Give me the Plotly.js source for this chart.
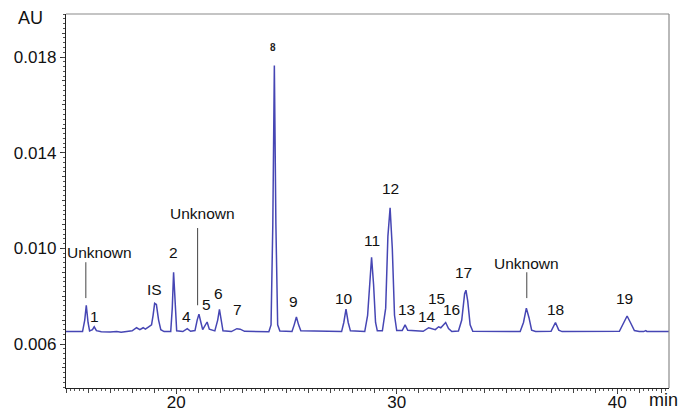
<!DOCTYPE html>
<html>
<head>
<meta charset="utf-8">
<script src="https://cdn.plot.ly/plotly-3.0.1.min.js"></script>
<style>html,body{margin:0;padding:0;background:#fff;}#chart{width:681px;height:411px;}</style>
</head>
<body>
<div id="chart"></div>
<script>
// Retention time (min) and absorbance (AU)
const timeMin = [
  15.0, 15.5, 15.75, 15.85, 15.92, 16.0, 16.07, 16.2, 16.28, 16.38, 16.6,
  17.0, 17.3, 17.5, 17.8, 18.0, 18.2, 18.35, 18.5, 18.6, 18.75, 18.88, 18.95,
  19.02, 19.1, 19.2, 19.3, 19.45, 19.75, 19.82, 19.88, 19.95, 20.02, 20.3,
  20.5, 20.65, 20.85, 20.95, 21.03, 21.12, 21.2, 21.4, 21.5, 21.75, 21.88,
  21.96, 22.05, 22.12, 22.5, 22.75, 22.9, 23.1, 24.2, 24.3, 24.38, 24.45,
  24.52, 24.6, 24.7, 25.25, 25.35, 25.45, 25.55, 25.65, 27.5, 27.6, 27.7,
  27.8, 27.9, 28.55, 28.68, 28.78, 28.86, 28.95, 29.04, 29.12, 29.35, 29.5,
  29.6, 29.7, 29.8, 29.9, 30.0, 30.25, 30.38, 30.5, 31.2, 31.45, 31.6, 31.75,
  31.9, 32.0, 32.22, 32.35, 32.5, 32.8, 32.95, 33.08, 33.14, 33.22, 33.33,
  33.45, 35.6, 35.75, 35.88, 36.0, 36.12, 36.3, 37.0, 37.2, 37.35, 37.5,
  40.1, 40.3, 40.45, 40.6, 40.78, 41.0, 41.2, 41.3, 41.35, 42.35
];
const absorbance = [
  0.00652, 0.00650, 0.00652, 0.00700, 0.00762, 0.00690, 0.00655, 0.00660, 0.00672, 0.00656, 0.00651,
  0.00650, 0.00652, 0.00649, 0.00652, 0.00655, 0.00668, 0.00660, 0.00668, 0.00662, 0.00672, 0.00680, 0.00720,
  0.00770, 0.00765, 0.00700, 0.00660, 0.00652, 0.00652, 0.00750, 0.00900, 0.00740, 0.00655, 0.00652,
  0.00664, 0.00653, 0.00656, 0.00700, 0.00725, 0.00690, 0.00660, 0.00692, 0.00662, 0.00655, 0.00700,
  0.00745, 0.00690, 0.00655, 0.00652, 0.00664, 0.00662, 0.00653, 0.00651, 0.00680, 0.01100, 0.01765,
  0.01100, 0.00680, 0.00654, 0.00652, 0.00680, 0.00713, 0.00680, 0.00655, 0.00652, 0.00690, 0.00746,
  0.00690, 0.00655, 0.00652, 0.00720, 0.00880, 0.00963, 0.00850, 0.00690, 0.00655, 0.00655, 0.00750,
  0.01050, 0.01170, 0.01000, 0.00720, 0.00656, 0.00656, 0.00680, 0.00657, 0.00653, 0.00668, 0.00665, 0.00660,
  0.00672, 0.00668, 0.00690, 0.00665, 0.00652, 0.00654, 0.00700, 0.00810, 0.00825, 0.00780, 0.00680,
  0.00653, 0.00652, 0.00690, 0.00750, 0.00710, 0.00658, 0.00652, 0.00653, 0.00690, 0.00658, 0.00652,
  0.00653, 0.00690, 0.00717, 0.00690, 0.00656, 0.00652, 0.00652, 0.00656, 0.00652, 0.00652
];

// Peak labels
const peakLabels = ["Unknown", "1", "IS", "2", "4", "Unknown", "5", "6", "7", "8", "9", "10", "11", "12", "13", "14", "15", "16", "17", "Unknown", "18", "19"];
const labelTime  = [16.54, 16.31, 19.03, 19.89, 20.48, 21.2, 21.38, 21.92, 22.78, 24.41, 25.32, 27.62, 28.89, 29.7, 30.43, 31.38, 31.79, 32.47, 33.05, 35.9, 37.2, 40.34];
const labelAU    = [0.00983, 0.00717, 0.00829, 0.00983, 0.00717, 0.01146, 0.00767, 0.00812, 0.00746, 0.01842, 0.00779, 0.00792, 0.01033, 0.0125, 0.00746, 0.00717, 0.00792, 0.00746, 0.0090, 0.00938, 0.00746, 0.00792];

// Leader lines for "Unknown" labels
const leaderTime = [15.9, 20.97, 35.9];
const leaderTop  = [0.00942, 0.01085, 0.00900];
const leaderBot  = [0.00792, 0.00762, 0.00792];

const yTickVals = [0.006, 0.010, 0.014, 0.018];
const yTickText = ["0.006", "0.010", "0.014", "0.018"];
const xTickVals = [20, 30, 40];

const xRange = [15, 42.35];
const yRange = [0.00416, 0.0198];

const font = "Liberation Sans, Arial, sans-serif";

const annotations = peakLabels.map((t, i) => ({
  x: labelTime[i], y: labelAU[i], xref: 'x', yref: 'y',
  text: t, showarrow: false, xanchor: 'center', yanchor: 'middle',
  font: t === "8" ? {family: font, size: 10, color: '#222', weight: 'bold'} : {family: font, size: 15.5, color: '#111'}
}));
annotations.push({xref: 'paper', yref: 'paper', x: -0.035, y: 0.99, xanchor: 'right', yanchor: 'middle',
  text: 'AU', showarrow: false, font: {family: font, size: 18, color: '#111'}});
annotations.push({xref: 'paper', yref: 'paper', x: 0.963, y: -0.032, xanchor: 'left', yanchor: 'middle',
  text: 'min', showarrow: false, font: {family: font, size: 18, color: '#111'}});

const shapes = leaderTime.map((t, i) => ({
  type: 'line', xref: 'x', yref: 'y', x0: t, x1: t, y0: leaderBot[i], y1: leaderTop[i],
  line: {color: '#444', width: 1}
}));
// top & right frame in gray
shapes.push({type: 'line', xref: 'paper', yref: 'paper', x0: 0, x1: 1, y0: 1, y1: 1, line: {color: '#8a8a8a', width: 1.2}});
shapes.push({type: 'line', xref: 'paper', yref: 'paper', x0: 1, x1: 1, y0: 0, y1: 1, line: {color: '#8a8a8a', width: 1.2}});

const trace = {
  x: timeMin, y: absorbance, type: 'scatter', mode: 'lines',
  line: {color: '#4646b4', width: 1.5}, hoverinfo: 'skip'
};
// invisible trace to activate secondary tick axes
const dummy = {x: [xRange[0]], y: [yRange[0]], xaxis: 'x2', yaxis: 'y2', mode: 'markers', marker: {opacity: 0}, hoverinfo: 'skip', showlegend: false};

const layout = {
  width: 681, height: 411,
  margin: {l: 66, r: 12, t: 14, b: 23},
  paper_bgcolor: '#fff', plot_bgcolor: '#fff',
  showlegend: false,
  font: {family: font, color: '#111'},
  xaxis: {
    range: xRange, showgrid: false, zeroline: false,
    showline: true, linecolor: '#222', linewidth: 1.2,
    tickmode: 'array', tickvals: xTickVals, ticks: 'outside', ticklen: 5, tickcolor: '#333',
    ticklabelstandoff: -7,
    tickfont: {family: font, size: 17, color: '#111'},
    minor: {dtick: 0.2, ticklen: 2, tickcolor: '#555', ticks: 'outside', showgrid: false}
  },
  yaxis: {
    range: yRange, showgrid: false, zeroline: false,
    showline: true, linecolor: '#222', linewidth: 1.2,
    tickmode: 'array', tickvals: yTickVals, ticktext: yTickText, ticks: 'outside', ticklen: 5, tickcolor: '#333',
    tickfont: {family: font, size: 17, color: '#111'},
    minor: {dtick: 0.0002, tick0: 0.006, ticklen: 2, tickcolor: '#555', ticks: 'outside', showgrid: false}
  },
  xaxis2: {
    range: xRange, overlaying: 'x', anchor: 'y', side: 'bottom', showgrid: false, zeroline: false,
    showline: false, dtick: 1, tick0: 15, ticks: 'outside', ticklen: 3.5, tickcolor: '#444', showticklabels: false
  },
  yaxis2: {
    range: yRange, overlaying: 'y', anchor: 'x', side: 'left', showgrid: false, zeroline: false,
    showline: false, dtick: 0.001, tick0: 0.006, ticks: 'outside', ticklen: 3.5, tickcolor: '#444', showticklabels: false
  },
  annotations: annotations,
  shapes: shapes
};

Plotly.newPlot('chart', [trace, dummy], layout, {staticPlot: true, displayModeBar: false});
</script>
</body>
</html>
